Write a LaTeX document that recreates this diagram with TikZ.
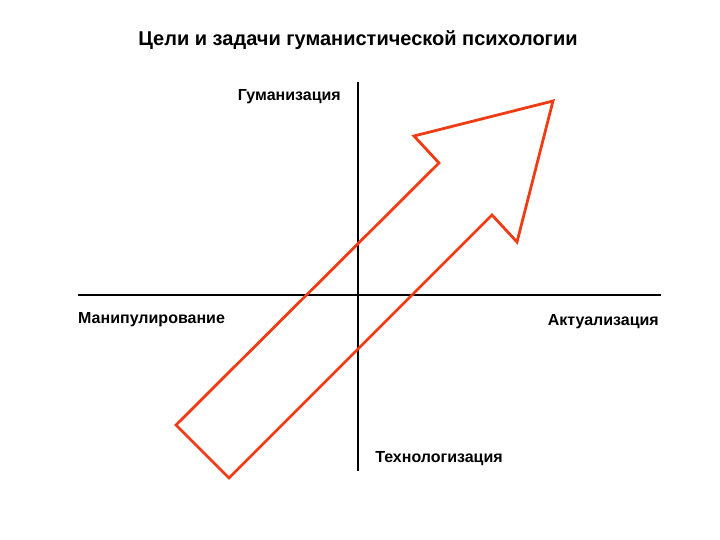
\documentclass[tikz,border=0pt]{standalone}
\usepackage{fontspec}
\setmainfont{Liberation Sans}
\usetikzlibrary{positioning}

\definecolor{arrowred}{RGB}{240,60,20}

\begin{document}
\begin{tikzpicture}[x=1pt,y=-1pt,
    axis/.style={black,line width=1.6pt},
    label/.style={inner sep=0pt,font=\bfseries\fontsize{16}{19}\selectfont},
    bigarrow/.style={arrowred,line width=2.8pt,line join=miter}]

    \useasboundingbox (0,0) rectangle (720,540);

    % axes
    \coordinate (west)  at (78,295);
    \coordinate (east)  at (661,295);
    \coordinate (north) at (358,82);
    \coordinate (south) at (358,471);
    \draw[axis] (west) -- (east);
    \draw[axis] (north) -- (south);

    % the arrow
    \coordinate (tailL)  at (176,425);
    \coordinate (tailR)  at (229,478);
    \coordinate (notchR) at (492,215);
    \coordinate (barbR)  at (517,242);
    \coordinate (tip)    at (553,101);
    \coordinate (barbL)  at (414,136);
    \coordinate (notchL) at (439,163);
    \draw[bigarrow] (tailL) -- (tailR) -- (notchR) -- (barbR) -- (tip)
        -- (barbL) -- (notchL) -- cycle;

    \node[font=\bfseries\fontsize{20}{24}\selectfont] (title) at (358,40)
        {Цели и задачи гуманистической психологии};

    \node[label,anchor=east]  (human)  at (341,97)  {Гуманизация};
    \node[label,anchor=west]  (manip)  at (78,320)  {Манипулирование};
    \node[label,anchor=east]  (actual) at (659,322) {Актуализация};
    \node[label]              (techno) at (439,459) {Технологизация};
\end{tikzpicture}
\end{document}
